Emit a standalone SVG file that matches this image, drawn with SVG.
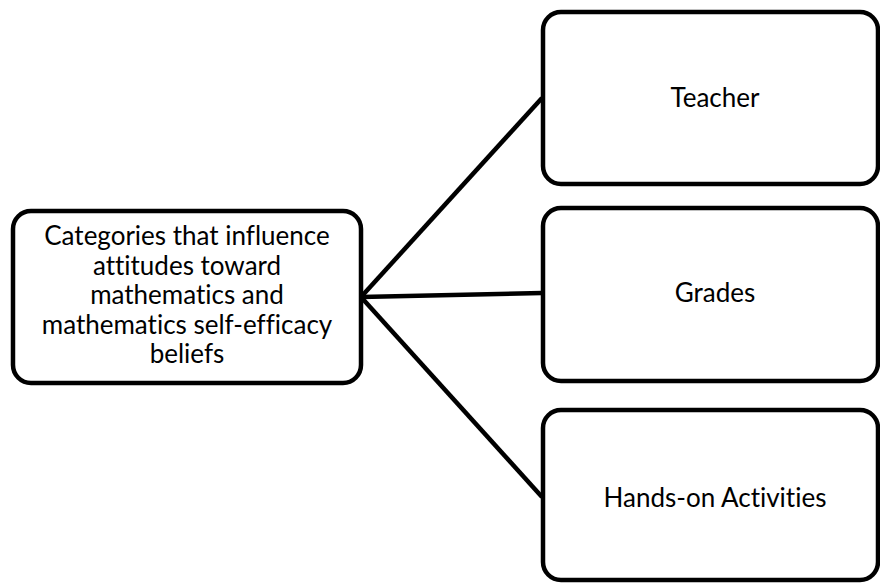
<svg xmlns="http://www.w3.org/2000/svg" width="880" height="584" viewBox="0 0 880 584">
<style>
.box{fill:#fff;stroke:#000;stroke-width:4.5}
.t{font-family:Lato,"Open Sans","Liberation Sans",sans-serif;font-size:26px;fill:#000;text-anchor:middle;font-variant-ligatures:none}
.c{stroke:#000;stroke-width:4.5;fill:none}
</style>
<rect width="880" height="584" fill="#fff"/>
<g id="connectors">
<line class="c" x1="361" y1="297" x2="542" y2="98"/>
<line class="c" x1="361" y1="297" x2="542" y2="293"/>
<line class="c" x1="361" y1="297" x2="542" y2="497"/>
</g>
<g id="root">
<rect class="box" x="13" y="211" width="348" height="172" rx="18"/>
<text class="t" x="187" y="245">Categories that influence</text>
<text class="t" x="187" y="274.5">attitudes toward</text>
<text class="t" x="187" y="304">mathematics and</text>
<text class="t" x="187" y="333.5">mathematics self-efficacy</text>
<text class="t" x="187" y="363">beliefs</text>
</g>
<g id="teacher">
<rect class="box" x="543" y="12" width="335" height="172" rx="18"/>
<text class="t" x="715" y="107">Teacher</text>
</g>
<g id="grades">
<rect class="box" x="543" y="208" width="335" height="173" rx="18"/>
<text class="t" x="715" y="302">Grades</text>
</g>
<g id="hands-on">
<rect class="box" x="543" y="410" width="335" height="170" rx="18"/>
<text class="t" x="715" y="507">Hands-on Activities</text>
</g>
</svg>
